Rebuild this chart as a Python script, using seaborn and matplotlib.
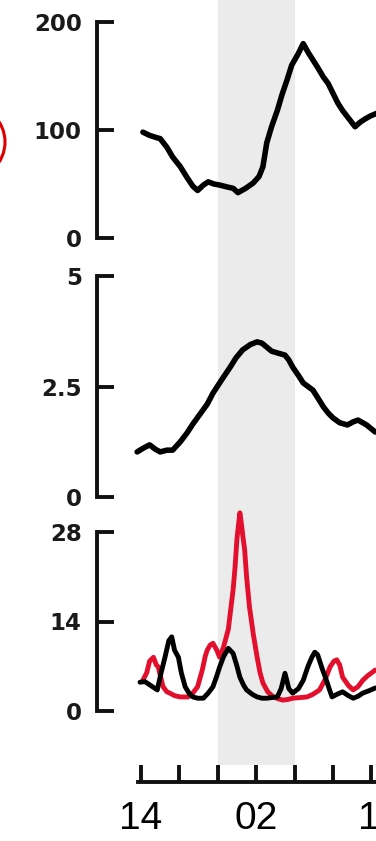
import matplotlib
matplotlib.use('Agg')
import matplotlib.pyplot as plt
from matplotlib.patches import Ellipse
from matplotlib.transforms import ScaledTranslation
import seaborn as sns
import pandas as pd

# --- Data (hours after 14:00) ---
t_top = [0.2, 0.9, 1.6, 2.0, 2.7, 3.3, 4.1, 4.8, 5.4, 5.9, 6.5, 7.0, 7.6, 8.2, 9.1, 9.6,
         10.1, 10.9, 11.7, 12.3, 12.7, 13.1, 13.6, 14.2, 14.7, 15.2, 15.7, 16.4, 16.9,
         17.4, 17.9, 18.4, 19.0, 19.5, 20.0, 20.5, 21.0, 21.7, 22.3, 22.8, 23.3, 23.9, 24.7]
v_top = [98, 95, 93, 92, 84, 75, 66, 56, 48, 44, 49, 52, 50, 49, 47, 46,
         42, 46, 51, 57, 66, 88, 103, 118, 133, 146, 160, 171, 180,
         172, 165, 158, 149, 143, 134, 125, 118, 110, 103, 107, 110, 113, 116]

t_mid = [-0.4, 0.2, 0.9, 1.5, 2.0, 2.7, 3.3, 4.1, 4.8, 5.4, 6.1, 6.9, 7.5, 8.4, 9.3, 9.9,
         10.6, 11.4, 12.1, 12.6, 13.1, 13.6, 14.2, 15.0, 15.4, 15.8, 16.4, 16.9, 17.4,
         17.9, 18.4, 19.0, 19.5, 20.0, 20.7, 21.5, 22.1, 22.6, 23.1, 23.5, 24.4]
v_mid = [1.02, 1.10, 1.18, 1.08, 1.02, 1.06, 1.06, 1.25, 1.45, 1.65, 1.86, 2.10, 2.35, 2.65,
         2.94, 3.15, 3.33, 3.45, 3.51, 3.48, 3.39, 3.30, 3.26, 3.21, 3.10, 2.94, 2.75, 2.58,
         2.50, 2.42, 2.25, 2.04, 1.90, 1.79, 1.68, 1.63, 1.70, 1.74, 1.68, 1.63, 1.47]

t_black = [-0.1, 0.4, 0.9, 1.7, 2.1, 2.5, 2.9, 3.2, 3.5, 3.9, 4.2, 4.6, 5.0, 5.4, 5.9, 6.5,
           7.0, 7.5, 7.9, 8.2, 8.6, 9.1, 9.6, 10.0, 10.3, 10.7, 11.0, 11.6, 12.1, 12.6,
           13.1, 13.6, 14.2, 14.6, 15.0, 15.4, 15.8, 16.4, 16.9, 17.4, 17.8, 18.1, 18.4,
           18.9, 19.2, 19.6, 19.9, 20.4, 21.0, 21.6, 22.1, 22.6, 23.1, 23.8, 24.4]
v_black = [4.5, 4.6, 4.1, 3.3, 6.0, 8.4, 11.0, 11.6, 9.5, 8.4, 6.0, 3.8, 2.8, 2.2, 2.0, 2.0,
           2.8, 3.8, 5.5, 6.9, 8.5, 9.8, 9.0, 7.0, 5.3, 4.0, 3.3, 2.6, 2.2, 2.0,
           2.0, 2.1, 2.2, 3.5, 5.9, 3.5, 2.8, 3.5, 4.8, 7.0, 8.4, 9.2, 8.8,
           6.5, 5.3, 3.5, 2.2, 2.6, 3.0, 2.4, 2.0, 2.3, 2.8, 3.2, 3.6]

t_red = [0.2, 0.6, 0.9, 1.3, 1.6, 1.8, 2.1, 2.3, 2.7, 3.0, 3.5, 4.1, 4.9, 5.4, 5.9, 6.4,
         6.7, 6.9, 7.2, 7.5, 7.9, 8.2, 8.6, 9.1, 9.3, 9.6, 9.8, 10.0, 10.3, 10.4, 10.6,
         10.8, 11.0, 11.3, 11.7, 12.1, 12.4, 12.7, 13.2, 13.8, 14.3, 14.8, 15.3, 15.8,
         16.6, 17.3, 17.9, 18.6, 19.2, 19.7, 20.1, 20.4, 20.7, 21.0, 21.6, 22.1, 22.6,
         23.1, 23.6, 24.4]
v_red = [4.8, 6.0, 7.8, 8.4, 7.2, 6.9, 5.0, 3.8, 3.0, 2.8, 2.4, 2.2, 2.2, 2.8, 3.8, 6.5,
         8.6, 9.5, 10.3, 10.6, 9.5, 8.4, 10.0, 12.8, 15.3, 19.0, 22.5, 27.0, 31.0, 30.0, 27.5,
         25.2, 21.0, 16.3, 12.0, 8.4, 6.0, 4.4, 3.0, 2.2, 1.9, 1.7, 1.8, 2.0,
         2.1, 2.2, 2.6, 3.3, 5.0, 6.9, 7.8, 8.0, 7.2, 5.3, 4.0, 3.3, 3.8,
         4.8, 5.5, 6.4]

night = (8.0, 16.0)  # 22:00 -> 06:00
x_ticks = [0, 4, 8, 12, 16, 20, 24]
x_labels = ['14', '', '', '02', '', '', '14']

# --- Style ---
sns.set_style('ticks')
plt.rcParams['font.family'] = ['DejaVu Sans']

W, H = 376, 841
fig = plt.figure(figsize=(W / 100, H / 100), dpi=100)
xlim = (-4.58, 24.48)
left = 97 / W


def frac_box(top_px, bottom_px):
    return [left, (H - bottom_px) / H, 1 - left, (bottom_px - top_px) / H]


# background axes: shaded night band + time axis
ax_bg = fig.add_axes(frac_box(0, 782), zorder=0)
ax_bg.set_xlim(*xlim)
ax_bg.set_ylim(0, 1)
ax_bg.axvspan(*night, ymin=17 / 782, ymax=1, color='#ebebeb', lw=0)
for s in ['top', 'right', 'left']:
    ax_bg.spines[s].set_visible(False)
ax_bg.spines['bottom'].set_linewidth(2.8)
ax_bg.spines['bottom'].set_color('#111111')
ax_bg.spines['bottom'].set_bounds(-0.3, 30)
ax_bg.set_yticks([])
ax_bg.set_xticks(x_ticks)
ax_bg.set_xticklabels(x_labels, family='Liberation Sans', fontsize=28, color='black')
ax_bg.tick_params(axis='x', direction='in', length=12, width=2.8, pad=14, color='#111111')
ax_bg.patch.set_alpha(0)

# last label sits a bit right of its tick in the original
last = ax_bg.get_xticklabels()[-1]
last.set_transform(last.get_transform() + ScaledTranslation(0.08, 0, fig.dpi_scale_trans))


def panel(top_px, bottom_px, ylim, yticks, yticklabels):
    ax = fig.add_axes(frac_box(top_px, bottom_px), zorder=1)
    ax.patch.set_alpha(0)
    ax.set_xlim(*xlim)
    ax.set_ylim(*ylim)
    for s in ['top', 'right', 'bottom']:
        ax.spines[s].set_visible(False)
    ax.spines['left'].set_linewidth(2.8)
    ax.spines['left'].set_color('#111111')
    ax.set_xticks([])
    ax.set_yticks(yticks)
    ax.set_yticklabels(yticklabels, fontsize=16.5, fontweight='bold', color='#1a1a1a')
    ax.tick_params(axis='y', direction='in', length=12, width=2.8, pad=11, color='#111111')
    return ax


ax1 = panel(22, 238, (0, 200), [0, 100, 200], ['0', '100', '200'])
sns.lineplot(data=pd.DataFrame({'t': t_top, 'v': v_top}), x='t', y='v', ax=ax1,
             color='black', lw=4)

ax2 = panel(276, 497, (0, 5), [0, 2.5, 5], ['0', '2.5', '5'])
sns.lineplot(data=pd.DataFrame({'t': t_mid, 'v': v_mid}), x='t', y='v', ax=ax2,
             color='black', lw=4)

ax3 = panel(532, 711, (0, 28), [0, 14, 28], ['0', '14', '28'])
sns.lineplot(data=pd.DataFrame({'t': t_red, 'v': v_red}), x='t', y='v', ax=ax3,
             color='#e2102c', lw=3.5)
sns.lineplot(data=pd.DataFrame({'t': t_black, 'v': v_black}), x='t', y='v', ax=ax3,
             color='black', lw=3.5)

for ax in [ax1, ax2, ax3]:
    ax.set_xlabel('')
    ax.set_ylabel('')
    for line in ax.lines:
        line.set_clip_on(False)

# partial red circle at the left edge (panel marker)
fig.add_artist(Ellipse((-32.5 / W, (H - 142) / H), 75 / W, 75 / H,
                       transform=fig.transFigure, fill=False, ec='#dd0000', lw=2.2))

plt.savefig('out.png', dpi=100)
